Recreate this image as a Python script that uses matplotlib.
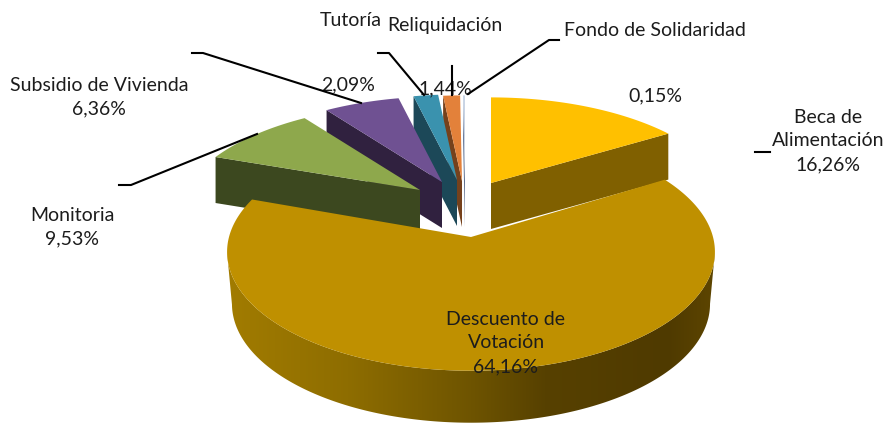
import numpy as np
import matplotlib
matplotlib.use('Agg')
import matplotlib.pyplot as plt
from matplotlib.colors import LinearSegmentedColormap
from matplotlib.patches import Polygon

plt.rcParams['font.family'] = ['Lato', 'DejaVu Sans']

# Data, clockwise from the top of the pie
categories = ['Beca de\nAlimentación', 'Descuento de\nVotación', 'Monitoria', 'Subsidio de Vivienda',
              'Tutoría', 'Reliquidación', 'Fondo de Solidaridad']
values = [16.26, 64.16, 9.53, 6.36, 2.09, 1.44, 0.15]
value_labels = ['16,26%', '64,16%', '9,53%', '6,36%', '2,09%', '1,44%', '0,15%']

top_colors = ['#FFC000', '#BF9000', '#8EA84C', '#6F5192', '#3A92AE', '#E3813A', '#C3D0E2']
side_colors = ['#806000', '#BF9000', '#3C481F', '#30213F', '#1C4858', '#75411C', '#5F6F8F']

# pie centre of each exploded slice, in pixels
centers = [(491, 183), (471, 237), (420, 190), (442, 182), (457, 180), (462, 181), (465, 181)]

# fake 3D camera: the big slice needs its own numbers
R, RY, D = 235, 107, 4.0
BIG_R, BIG_RY, BIG_D = 242, 117, 8.0
DEPTH = 46
BIG_DEPTH = 52


def project(cx, cy, theta, r=R, ry=RY, d=D):
    s = d / (d + np.cos(theta))
    return cx + r * np.sin(theta) * s, cy - ry * np.cos(theta) * s


fig = plt.figure(figsize=(8.85, 4.23), dpi=100)
ax = fig.add_axes([0, 0, 1, 1])

edges = np.radians(np.concatenate([[0], np.cumsum(values)]) * 3.6)

# back slices first, the big one goes over them
order = [0, 6, 5, 4, 3, 2, 1]
for z, i in enumerate(order):
    cx, cy = centers[i]
    if i == 1:
        t = np.linspace(edges[i], edges[i + 1], 300)
        xs, ys = project(cx, cy, t, BIG_R, BIG_RY, BIG_D)
        # rim between the widest points, a bit narrower at the bottom, left to right gradient
        a, b = np.argmax(xs), np.argmin(xs) + 1
        xb = cx + (xs - cx) * 0.98
        yb = ys + BIG_DEPTH
        rim = Polygon(np.column_stack([np.append(xs[a:b], xb[a:b][::-1]),
                                       np.append(ys[a:b], yb[a:b][::-1])]),
                      transform=ax.transData, fc='none', ec='none')
        ax.add_patch(rim)
        rim_cmap = LinearSegmentedColormap.from_list('rim', [
            (0.0, '#A27C00'), (0.25, '#8E6D00'), (0.5, '#6E5400'),
            (0.65, '#574100'), (0.9, '#4F3A00'), (1.0, '#5E4600')])
        img = ax.imshow(np.linspace(0, 1, 256)[None, :], cmap=rim_cmap, aspect='auto',
                        extent=(225, 718, 423, 200), zorder=z)
        img.set_clip_path(rim)
    else:
        t = np.linspace(edges[i], edges[i + 1], max(int(values[i] * 3), 3))
        xs, ys = project(cx, cy, t)
        # yellow shows its end face, the left slices their start face
        k = -1 if i == 0 else 0
        face = [(xs[k], ys[k]), (cx, cy), (cx, cy + DEPTH), (xs[k], ys[k] + DEPTH)]
        ax.add_patch(Polygon(face, fc=side_colors[i], ec='none', zorder=z))

    top = np.column_stack([np.append(xs, cx), np.append(ys, cy)])
    ax.add_patch(Polygon(top, fc=top_colors[i], ec='none', zorder=z + 0.5))

ax.set_xlim(0, 885)
ax.set_ylim(423, 0)
ax.axis('off')

# text
font = dict(fontsize=14, color='#1c1c1c', ha='center', va='center', zorder=20, linespacing=1.49)
ax.text(828, 141, categories[0] + '\n' + value_labels[0], **font)
ax.text(506, 343, categories[1] + '\n' + value_labels[1], **font)
ax.text(72, 227, categories[2] + '\n' + value_labels[2], **font)
ax.text(99, 97, categories[3] + '\n' + value_labels[3], **font)
ax.text(351, 21, categories[4], **font)
ax.text(445, 26, categories[5], **font)
ax.text(655, 30, categories[6], **font)
ax.text(348, 85, value_labels[4], **font)
ax.text(445, 89, value_labels[5], **font)
ax.text(655, 96, value_labels[6], **font)

# leader lines
leaders = [
    ([755, 770], [152, 152]),
    ([119, 131, 257], [185, 185, 134]),
    ([192, 203, 361], [53, 53, 103]),
    ([378, 389, 424], [53, 53, 95]),
    ([451.5, 451.5], [66, 95]),
    ([559, 549, 468], [40, 40, 94]),
]
for lx, ly in leaders:
    ax.plot(lx, ly, color='black', lw=1.5, zorder=21, solid_joinstyle='round')

fig.savefig('out.png', dpi=100)
